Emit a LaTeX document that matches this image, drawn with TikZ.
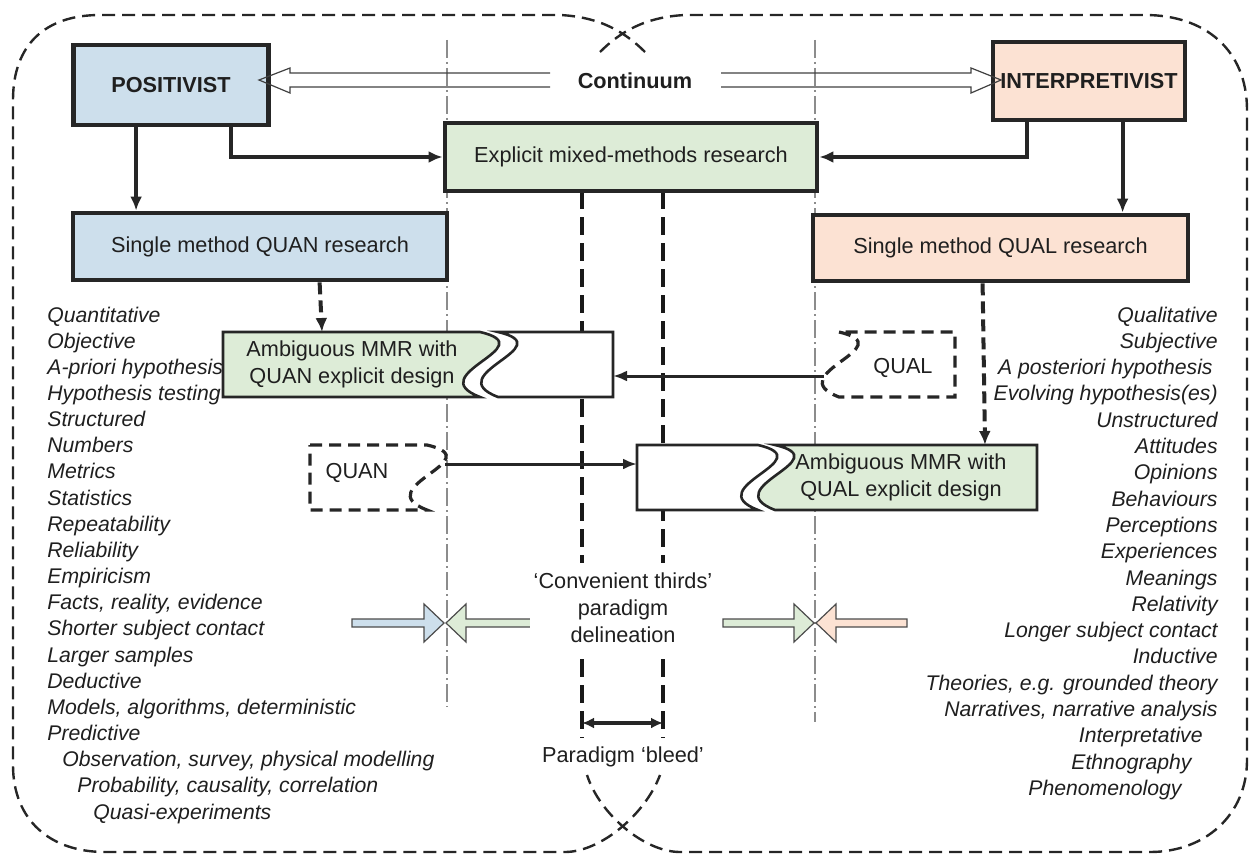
\documentclass[tikz,border=0pt]{standalone}
\usepackage{fontspec}
\setmainfont{Liberation Sans}
\usetikzlibrary{calc,arrows.meta}
\definecolor{posblue}{RGB}{205,223,236}
\definecolor{intpeach}{RGB}{252,226,211}
\definecolor{mixgreen}{RGB}{221,236,215}
\definecolor{dotgrey}{RGB}{140,140,140}
\def\tear{.. controls +(65,15) and +(-60,-23) .. ++(0,65)}
\def\blockarrow[#1](#2)(#3:#4){\draw[#1,shift={(#2)},xscale=#3] (0,0) -- (-20,-19) -- (-20,-4) -- (-#4,-4) -- (-#4,4) -- (-20,4) -- (-20,19) -- cycle;}
\tikzset{
  maintext/.style={text=black!88, inner sep=2pt, align=center, font=\fontsize{10.85pt}{13.5pt}\selectfont},
  boldtext/.style={maintext, font=\fontsize{10.85pt}{13.5pt}\selectfont\bfseries},
  listtext/.style={text=black!88, inner sep=0pt, font=\fontsize{10.6pt}{13pt}\selectfont\itshape},
  mainbox/.style={draw=black!85, line width=2.4pt, inner sep=0pt},
  region/.style={draw=black!85, line width=1.2pt, dash pattern=on 6.5pt off 3.5pt},
  thirds/.style={draw=dotgrey, line width=0.7pt, dash pattern=on 9pt off 2pt on 1pt off 2pt},
  bleed/.style={draw=black!90, line width=1.6pt, dash pattern=on 9pt off 4pt},
  torn/.style={draw=black!85, line width=1.3pt},
  dashbox/.style={draw=black!85, line width=1.6pt, dash pattern=on 6pt off 3.5pt},
  conn/.style={draw=black!85, line width=2pt, -{Latex[length=7pt,width=6pt]}},
  dashconn/.style={conn, dash pattern=on 6pt off 3pt},
  hconn/.style={draw=black!85, line width=1.5pt, -{Latex[length=7pt,width=5.5pt]}},
  bleedarrow/.style={draw=black!85, line width=2pt, {Latex[length=6pt,width=5.5pt]}-{Latex[length=6pt,width=5.5pt]}},
  hollow/.style={draw=black!75, line width=0.6pt},
  blockedge/.style={draw=black!70, line width=0.6pt}
}
\begin{document}
\begin{tikzpicture}[x=0.5pt,y=-0.5pt]
	\useasboundingbox (0,0) rectangle (1252,856);
	%%%%% paradigm regions %%%%%
	\draw[region] (645,52) .. controls (625,32) and (600,17) .. (560,15) -- (100,15) .. controls (45,15) and (13,45) .. (13,100) -- (13,765) .. controls (13,820) and (50,852) .. (105,852) -- (565,852) .. controls (600,852) and (645,815) .. (660,775);
	\draw[region] (600,52) .. controls (620,32) and (645,17) .. (685,15) -- (1145,15) .. controls (1205,15) and (1247,50) .. (1247,110) -- (1247,760) .. controls (1247,815) and (1205,852) .. (1150,852) -- (680,852) .. controls (645,852) and (600,815) .. (587,775);
	
	\draw[thirds] (447,40) -- (447,707);
	\draw[thirds] (815,40) -- (815,722);
	
	\draw[bleed] (582,191) -- (582,738);
	\draw[bleed] (663,191) -- (663,738);
	
	%%%%% boxes %%%%%
	\node[mainbox, fill=posblue, minimum width=97.5pt, minimum height=40pt] (pos) at (171,85) {};
	\node[boldtext] (poslbl) at (pos) {POSITIVIST};
	\node[mainbox, fill=intpeach, minimum width=96pt, minimum height=39pt] (int) at (1089,81) {};
	\node[boldtext] (intlbl) at (int) {INTERPRETIVIST};
	\node[mainbox, fill=mixgreen, minimum width=186pt, minimum height=34pt] (mmr) at (631,157) {};
	\node[maintext] (mmrlbl) at (mmr) {Explicit mixed-methods research};
	\node[mainbox, fill=posblue, minimum width=187pt, minimum height=33.5pt] (quan) at (260,246.5) {};
	\node[maintext] (quanlbl) at (quan) {Single method QUAN research};
	\node[mainbox, fill=intpeach, minimum width=187.5pt, minimum height=33pt] (qual) at (1000.5,248) {};
	\node[maintext] (quallbl) at (qual) {Single method QUAL research};
	
	\coordinate (posdown) at ($(pos.south west)+(65,0)$);
	\draw[conn] (posdown) -- (posdown |- quan.north);
	\draw[conn] ($(pos.south west)+(160,0)$) |- (mmr.west);
	\draw[conn] ($(int.south west)+(36,0)$) |- (mmr.east);
	\coordinate (intdown) at ($(int.south west)+(132,0)$);
	\draw[conn] (intdown) -- (intdown |- qual.north);
	
	%%%%% continuum %%%%%
	\draw[hollow] (550,73) -- (290,73) -- (290,68) -- (259,80) -- (290,93) -- (290,87) -- (550,87);
	\draw[hollow] (721,73) -- (971,73) -- (971,68) -- (1001,80) -- (971,93) -- (971,87) -- (721,87);
	\node[boldtext] (cont) at (635,81) {Continuum};
	
	%%%%% attribute lists %%%%%
	\foreach \txt [count=\i] in {Quantitative, Objective, A-priori hypothesis, Hypothesis testing, Structured, Numbers, Metrics, Statistics, Repeatability, Reliability, Empiricism, {Facts, reality, evidence}, Shorter subject contact, Larger samples, Deductive, {Models, algorithms, deterministic}, Predictive}
		\node[listtext, anchor=base west] (quanattr\i) at (47,{322+26.16*(\i-1)}) {\txt};
	\node[listtext, anchor=base west] (quanattr18) at (62,766.7) {Observation, survey, physical modelling};
	\node[listtext, anchor=base west] (quanattr19) at (77,792.9) {Probability, causality, correlation};
	\node[listtext, anchor=base west] (quanattr20) at (93,819) {Quasi-experiments};
	
	\foreach \txt/\xx [count=\i] in {Qualitative/1218, Subjective/1218, A posteriori hypothesis/1213, Evolving hypothesis(es)/1218, Unstructured/1218, Attitudes/1218, Opinions/1218, Behaviours/1218, Perceptions/1218, Experiences/1218, Meanings/1218, Relativity/1218, Longer subject contact/1218, Inductive/1218, {Theories, e.g. grounded theory}/1218, {Narratives, narrative analysis}/1218, Interpretative/1203, Ethnography/1192, Phenomenology/1182}
		\node[listtext, anchor=base east] (qualattr\i) at (\xx,{322+26.3*(\i-1)}) {\txt};
	
	%%%%% ambiguous MMR %%%%%
	\filldraw[torn, fill=mixgreen] (223,332) -- (480,332) \tear -- (223,397) -- cycle;
	\filldraw[torn, fill=white] (498,332) \tear -- (613,397) -- (613,332) -- cycle;
	\node[maintext] (ambquan) at (352,364) {Ambiguous MMR with\\QUAN explicit design};
	
	\filldraw[torn, fill=white] (637,445) -- (758,445) \tear -- (637,510) -- cycle;
	\filldraw[torn, fill=mixgreen] (775,445) \tear -- (1037,510) -- (1037,445) -- cycle;
	\node[maintext] (ambqual) at (901,477) {Ambiguous MMR with\\QUAL explicit design};
	
	\draw[dashbox] (310,445) -- (427,445) \tear -- (310,510) -- cycle;
	\node[maintext] (quanpart) at (357,473) {QUAN};
	\draw[dashbox] (839,332) \tear -- (955,397) -- (955,332) -- cycle;
	\node[maintext] (qualpart) at (903,368) {QUAL};
	
	\coordinate (ambquantop) at (322,332);
	\coordinate (ambqualtop) at (985,445);
	\draw[dashconn] ($(quan.south west)+(249,0)$) -- (ambquantop);
	\draw[dashconn] ($(qual.south west)+(172,0)$) -- (ambqualtop);
	
	\coordinate (qualtip) at (824,376);
	\coordinate (ambquanR) at (613,376);
	\draw[hconn] (qualtip) -- (ambquanR);
	\coordinate (quantip) at (445,464);
	\coordinate (ambqualL) at (637,464);
	\draw[hconn] (quantip) -- (ambqualL);
	
	%%%%% thirds and bleed %%%%%
	\blockarrow[blockedge, fill=posblue](444,623)(1:92)
	\blockarrow[blockedge, fill=mixgreen](446,623)(-1:90)
	\blockarrow[blockedge, fill=mixgreen](814,623)(1:91)
	\blockarrow[blockedge, fill=intpeach](816,623)(-1:91)
	
	\node[maintext, fill=white, inner ysep=5pt] (thirdlbl) at (623,608) {‘Convenient thirds’\\paradigm\\delineation};
	
	\coordinate (bleedL) at (582,723);
	\coordinate (bleedR) at (663,723);
	\draw[bleedarrow] (bleedL) -- (bleedR);
	\node[maintext] (bleedlbl) at (623,757) {Paradigm ‘bleed’};
\end{tikzpicture}
\end{document}
